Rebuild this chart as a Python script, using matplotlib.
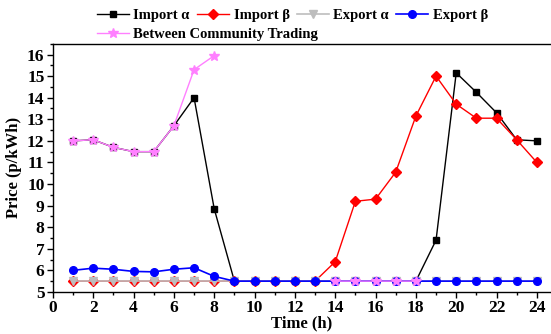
import numpy as np
import matplotlib
matplotlib.use('Agg')
import matplotlib.pyplot as plt
from matplotlib.ticker import MultipleLocator

plt.rcParams['font.family'] = ['Liberation Serif', 'DejaVu Serif']
plt.rcParams['font.weight'] = 'bold'

hours = np.arange(1, 25)
nan = np.nan

import_a = [12.0, 12.05, 11.7, 11.5, 11.5, 12.7, 14.0, 8.85, 5.5, 5.5, 5.5, 5.5,
            5.5, 5.5, 5.5, 5.5, 5.5, 5.5, 7.4, 15.15, 14.25, 13.3, 12.05, 12.0]
import_b = [5.5, 5.5, 5.5, 5.5, 5.5, 5.5, 5.5, 5.5, 5.5, 5.5, 5.5, 5.5,
            5.5, 6.4, 9.2, 9.3, 10.55, 13.15, 15.0, 13.7, 13.05, 13.05, 12.05, 11.0]
export_a = [5.5] * 24
export_b = [6.0, 6.1, 6.05, 5.95, 5.93, 6.05, 6.12, 5.72, 5.5, 5.5, 5.5, 5.5,
            5.5, 5.5, 5.5, 5.5, 5.5, 5.5, 5.5, 5.5, 5.5, 5.5, 5.5, 5.5]
between = [12.0, 12.05, 11.7, 11.5, 11.5, 12.7, 15.3, 15.95, nan, nan, nan, nan,
           nan, 5.5, 5.5, 5.5, 5.5, 5.5, nan, nan, nan, nan, nan, nan]

fig = plt.figure(figsize=(5.51, 3.34), dpi=100)
ax = fig.add_axes([0.096, 0.126, 0.904, 0.743])

h1, = ax.plot(hours, import_a, '-s', color='black', lw=1, ms=5, label='Import α')
h2, = ax.plot(hours, import_b, '-D', color='red', lw=1, ms=5, label='Import β')
h3, = ax.plot(hours, export_a, '-v', color='#bdbdbd', mfc='#bdbdbd', lw=1.2, ms=6, label='Export α')
h4, = ax.plot(hours, export_b, '-o', color='blue', lw=1.2, ms=5.5, label='Export β')
h5, = ax.plot(hours, between, '-*', color='#ff80ff', lw=1, ms=7, label='Between Community Trading')

ax.set_xlim(0, 24.7)
ax.set_ylim(5, 16.5)
ax.xaxis.set_major_locator(MultipleLocator(2))
ax.xaxis.set_minor_locator(MultipleLocator(1))
ax.yaxis.set_major_locator(MultipleLocator(1))
ax.yaxis.set_minor_locator(MultipleLocator(0.5))
ax.tick_params(which='both', direction='out', labelsize=12.5, width=1)
ax.tick_params(which='major', length=4, pad=2)
ax.tick_params(which='minor', length=2)
ax.spines['right'].set_visible(False)
for s in ['left', 'bottom', 'top']:
    ax.spines[s].set_linewidth(1)

ax.set_xlabel('Time (h)', fontsize=12, fontweight='bold')
ax.xaxis.set_label_coords(0.5, -0.095)
ax.set_ylabel('Price (p/kWh)', fontsize=12, fontweight='bold')
ax.yaxis.set_label_coords(-0.062, 0.5)

leg_kw = dict(loc='upper left', frameon=False, fontsize=10.5, handlelength=2.2,
              handletextpad=0.3, columnspacing=0.5, borderpad=0, borderaxespad=0)
fig.legend(handles=[h1, h2, h3, h4], ncol=4,
           bbox_to_anchor=(0.176, 0.973), **leg_kw)
fig.legend(handles=[h5], ncol=1, bbox_to_anchor=(0.176, 0.917), **leg_kw)

plt.savefig('out.png', dpi=100)
